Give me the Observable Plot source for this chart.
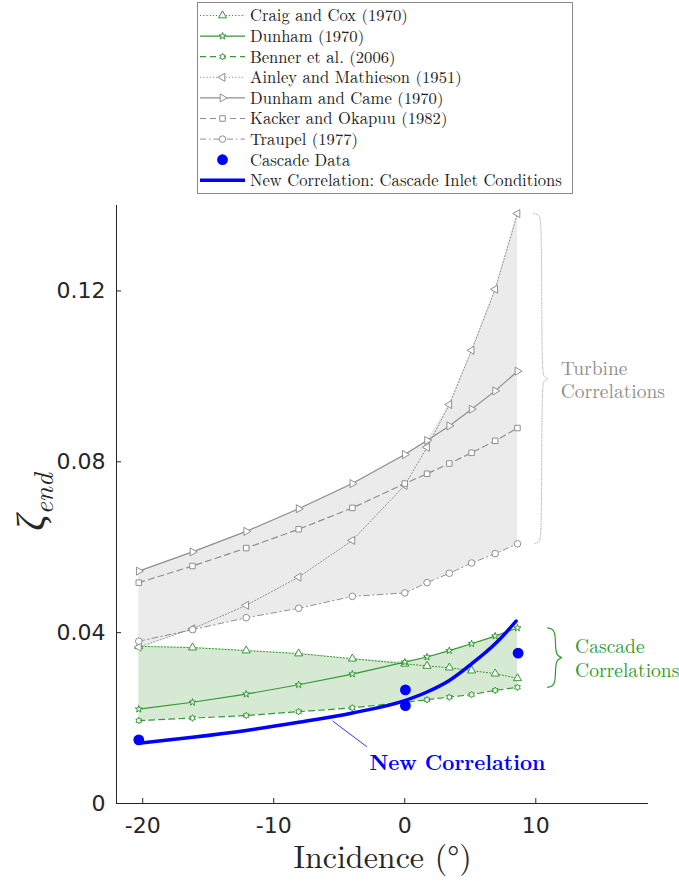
<!DOCTYPE html>
<html>
<head>
<meta charset="utf-8">
<script src="https://cdn.jsdelivr.net/npm/d3@7"></script>
<script src="https://cdn.jsdelivr.net/npm/@observablehq/plot@0.6"></script>
<style>
  body { margin: 0; background: #fff; }
  #legend { height: 197px; }
  #chart svg { display: block; }
  .serif, .serif text, .serif tspan { font-family: "Latin Modern Roman", "Liberation Serif", "Times New Roman", serif; }
</style>
</head>
<body>
<div id="legend"></div>
<div id="chart"></div>
<script>
// Incidence angles (deg) at which the correlations are evaluated
const incidence = [-20.3, -16.2, -12.1, -8.1, -4.0, 0, 1.7, 3.4, 5.1, 6.9, 8.6];

// Cascade correlations (endwall loss coefficient)
const craigCox        = [0.0368, 0.0365, 0.0358, 0.0351, 0.0339, 0.0327, 0.0322, 0.0318, 0.0311, 0.0304, 0.0293];
const dunham          = [0.0221, 0.0237, 0.0256, 0.0278, 0.0303, 0.0331, 0.0343, 0.0358, 0.0374, 0.0392, 0.0411];
const benner          = [0.0194, 0.0200, 0.0206, 0.0215, 0.0224, 0.0237, 0.0243, 0.0249, 0.0255, 0.0265, 0.0272];

// Turbine correlations
const ainleyMathieson = [0.0366, 0.0409, 0.0464, 0.0530, 0.0616, 0.0745, 0.0834, 0.0934, 0.1061, 0.1204, 0.1381];
const dunhamCame      = [0.0544, 0.0589, 0.0637, 0.0690, 0.0749, 0.0817, 0.0850, 0.0884, 0.0923, 0.0966, 0.1012];
const kackerOkapuu    = [0.0517, 0.0556, 0.0598, 0.0642, 0.0692, 0.0749, 0.0772, 0.0796, 0.0821, 0.0849, 0.0879];
const traupel         = [0.0380, 0.0407, 0.0435, 0.0457, 0.0485, 0.0493, 0.0517, 0.0539, 0.0563, 0.0585, 0.0608];

// Measured cascade data
const cascadeIncidence = [-20.3, 0.05, 0.05, 8.65];
const cascadeLoss      = [0.0149, 0.0266, 0.0229, 0.0352];

// New correlation evaluated at cascade inlet conditions
const newCorrIncidence = [-20.3, -16.2, -12.1, -8.1, -4.0, 0, 1.7, 3.4, 5.1, 6.9, 8.5];
const newCorrLoss      = [0.0141, 0.0155, 0.0171, 0.0190, 0.0212, 0.0241, 0.0261, 0.0288, 0.0327, 0.0374, 0.0427];

// Axis ticks
const xTicks = [-20, -10, 0, 10];
const yTicks = [0, 0.04, 0.08, 0.12];

// Six-pointed star marker
const symbolHexagram = {
  draw(context, size) {
    const R = Math.sqrt(size) * 0.62, r = R / Math.sqrt(3);
    for (let i = 0; i < 12; i++) {
      const rad = i % 2 ? r : R, a = i * Math.PI / 6;
      const px = rad * Math.sin(a), py = -rad * Math.cos(a);
      if (i === 0) context.moveTo(px, py); else context.lineTo(px, py);
    }
    context.closePath();
  }
};

const green = "#339933", gray = "#8f8f8f", blue = "#0000ff";

const cascadeSeries = [
  {name: "Craig and Cox (1970)", values: craigCox, symbol: "triangle", rotate: 0, r: 3, dash: "1.2,2", width: 1, color: green},
  {name: "Dunham (1970)", values: dunham, symbol: "star", rotate: 0, r: 2.2, dash: null, width: 1.2, color: green},
  {name: "Benner et al. (2006)", values: benner, symbol: symbolHexagram, rotate: 0, r: 3, dash: "6,4", width: 1.2, color: green}
];
const turbineSeries = [
  {name: "Ainley and Mathieson (1951)", values: ainleyMathieson, symbol: "triangle", rotate: -90, r: 3, dash: "1.2,2", width: 1, color: gray},
  {name: "Dunham and Came (1970)", values: dunhamCame, symbol: "triangle", rotate: 90, r: 3, dash: null, width: 1.2, color: gray},
  {name: "Kacker and Okapuu (1982)", values: kackerOkapuu, symbol: "square", rotate: 0, r: 3.1, dash: "6,4", width: 1.2, color: gray},
  {name: "Traupel (1977)", values: traupel, symbol: "circle", rotate: 0, r: 3.3, dash: "6,3,1.5,3", width: 1, color: gray}
];
const allSeries = [...cascadeSeries, ...turbineSeries];

// Envelope of each correlation family
function envelope(series) {
  return incidence.map((x, i) => {
    const v = series.map(s => s.values[i]);
    return {x, lo: d3.min(v), hi: d3.max(v)};
  });
}
const turbineBand = envelope(turbineSeries);
const cascadeBand = envelope(cascadeSeries);

// Curly brace beside a band, from its last-point spread
function brace(band, xm, w, h) {
  const last = band[band.length - 1];
  const top = last.hi, bot = last.lo, mid = (top + bot) / 2;
  return [
    {x: xm - w, y: top}, {x: xm - w * 0.3, y: top - h * 0.15}, {x: xm, y: top - h},
    {x: xm, y: mid + h}, {x: xm + w * 0.3, y: mid + h * 0.15}, {x: xm + w, y: mid},
    {x: xm + w * 0.3, y: mid - h * 0.15}, {x: xm, y: mid - h},
    {x: xm, y: bot + h}, {x: xm - w * 0.3, y: bot + h * 0.15}, {x: xm - w, y: bot}
  ];
}
const turbineBrace = brace(turbineBand, 10.45, 0.6, 0.0018);
const cascadeBrace = brace(cascadeBand, 11.5, 0.6, 0.0016);
const turbineMid = (turbineBand.at(-1).hi + turbineBand.at(-1).lo) / 2;
const cascadeMid = (cascadeBand.at(-1).hi + cascadeBand.at(-1).lo) / 2;

const seriesMarks = allSeries.flatMap(s => {
  const pts = incidence.map((x, i) => ({x, y: s.values[i]}));
  return [
    Plot.line(pts, {x: "x", y: "y", stroke: s.color, strokeWidth: s.width, strokeDasharray: s.dash}),
    Plot.dot(pts, {x: "x", y: "y", symbol: s.symbol, r: s.r, rotate: s.rotate, stroke: s.color, strokeWidth: 1, fill: "white"})
  ];
});

const newCorr = newCorrIncidence.map((x, i) => ({x, y: newCorrLoss[i]}));
const cascade = cascadeIncidence.map((x, i) => ({x, y: cascadeLoss[i]}));
const plotW = 679 - 116 - 31, plotH = 684 - 8 - 78;

const svg = Plot.plot({
  width: 679,
  height: 684,
  marginTop: 8,
  marginBottom: 78,
  marginLeft: 116,
  marginRight: 31,
  x: {domain: [-22, 18.6]},
  y: {domain: [0, 0.14]},
  style: {fontFamily: "DejaVu Sans, sans-serif", fontSize: "22px", color: "#262626", background: "white"},
  marks: [
    Plot.areaY(turbineBand, {x: "x", y1: "lo", y2: "hi", fill: "#ebebeb"}),
    Plot.areaY(cascadeBand, {x: "x", y1: "lo", y2: "hi", fill: "#d5e9d3"}),
    ...seriesMarks,
    Plot.line(newCorr, {x: "x", y: "y", stroke: blue, strokeWidth: 3.5, curve: "monotone-x"}),
    Plot.dot(cascade, {x: "x", y: "y", r: 5.4, fill: blue}),
    // braces and family labels
    Plot.line(turbineBrace, {x: "x", y: "y", stroke: "#b5b5b5", strokeWidth: 1, strokeDasharray: "1,1.5", curve: "basis"}),
    Plot.line(cascadeBrace, {x: "x", y: "y", stroke: green, strokeWidth: 1.2, curve: "basis"}),
    Plot.text(["Turbine\nCorrelations"], {x: 11.9, y: turbineMid, textAnchor: "start", lineHeight: 1.2, fontSize: 19.5, className: "serif", fill: gray}),
    Plot.text(["Cascade\nCorrelations"], {x: 13.0, y: cascadeMid, textAnchor: "start", lineHeight: 1.2, fontSize: 19.5, className: "serif", fill: green}),
    // new correlation callout
    Plot.link([{x1: -5.5, y1: 0.0193, x2: -2.9, y2: 0.0133}], {x1: "x1", y1: "y1", x2: "x2", y2: "y2", stroke: blue, strokeWidth: 0.8}),
    Plot.text(["New Correlation"], {x: -2.7, y: 0.0094, textAnchor: "start", fontSize: 21, fontWeight: "bold", className: "serif", fill: blue}),
    // axes
    Plot.ruleX([-22], {stroke: "#262626"}),
    Plot.ruleY([0], {stroke: "#262626"}),
    Plot.tickY(yTicks, {y: d => d, insetRight: plotW - 5, stroke: "#262626"}),
    Plot.tickX(xTicks, {x: d => d, insetTop: plotH - 5, stroke: "#262626"}),
    Plot.axisY({ticks: yTicks, tickSize: 0, tickPadding: 11, label: null, fontSize: 22, tickFormat: d => String(d)}),
    Plot.axisX({ticks: xTicks, tickSize: 0, tickPadding: 14, label: null, fontSize: 22, tickFormat: d => String(d)}),
    Plot.text(["Incidence (°)"], {frameAnchor: "bottom", dy: 64, fontSize: 32, className: "serif", fill: "#262626"})
  ]
});

// y-axis label: zeta with subscript
const yl = d3.select(svg).append("text")
  .attr("class", "serif")
  .attr("transform", "translate(44,305) rotate(-90)")
  .attr("text-anchor", "middle")
  .style("font-style", "italic")
  .attr("fill", "#262626");
yl.append("tspan").attr("font-size", 40).text("ζ");
yl.append("tspan").attr("font-size", 27).attr("dy", 9).text("end");

document.getElementById("chart").appendChild(svg);

// Legend
const legendEntries = [
  ...allSeries.map(s => ({...s, kind: "series"})),
  {name: "Cascade Data", kind: "dot"},
  {name: "New Correlation: Cascade Inlet Conditions", kind: "thick"}
];
const lg = d3.select("#legend").append("svg").attr("width", 679).attr("height", 197);
lg.append("rect").attr("x", 197.5).attr("y", 2.5).attr("width", 375).attr("height", 191)
  .attr("fill", "white").attr("stroke", "#8a8a8a").attr("stroke-width", 1);
legendEntries.forEach((e, i) => {
  const g = lg.append("g").attr("transform", `translate(0,${15.5 + i * 20.6})`);
  if (e.kind === "series") {
    g.append("line").attr("x1", 200).attr("x2", 245).attr("y1", 0).attr("y2", 0)
      .attr("stroke", e.color).attr("stroke-width", e.width).attr("stroke-dasharray", e.dash);
    const type = typeof e.symbol === "string"
      ? {triangle: d3.symbolTriangle, star: d3.symbolStar, square: d3.symbolSquare, circle: d3.symbolCircle}[e.symbol]
      : e.symbol;
    g.append("path").attr("d", d3.symbol(type, Math.PI * e.r * e.r)())
      .attr("transform", `translate(222.5,0) rotate(${e.rotate})`)
      .attr("fill", "white").attr("stroke", e.color).attr("stroke-width", 1);
  } else if (e.kind === "dot") {
    g.append("circle").attr("cx", 222.5).attr("cy", 0).attr("r", 5.4).attr("fill", blue);
  } else {
    g.append("line").attr("x1", 200).attr("x2", 245).attr("y1", 0).attr("y2", 0)
      .attr("stroke", blue).attr("stroke-width", 3.5);
  }
  g.append("text").attr("class", "serif").attr("x", 250).attr("y", 0).attr("dy", "0.35em")
    .attr("font-size", 16.6).attr("fill", "#222").text(e.name);
});
</script>
</body>
</html>
